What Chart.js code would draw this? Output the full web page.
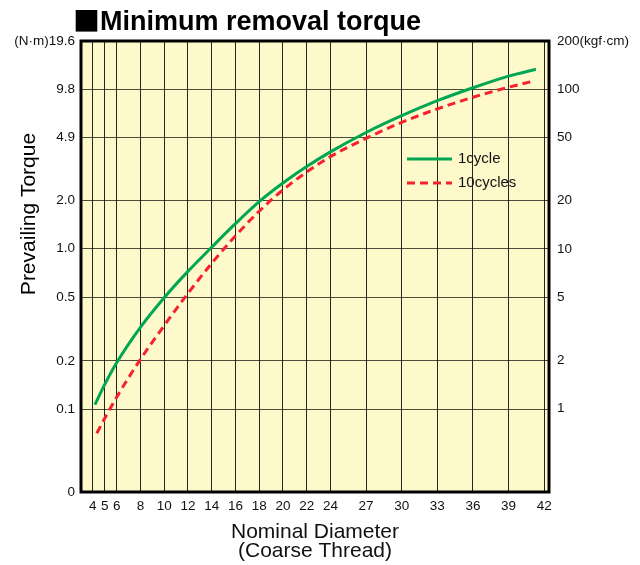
<!DOCTYPE html>
<html>
<head>
<meta charset="utf-8">
<script src="https://cdn.jsdelivr.net/npm/chart.js@4.4.1/dist/chart.umd.min.js"></script>
<style>
  html, body { margin: 0; padding: 0; background: #fff; }
  canvas { display: block; }
</style>
</head>
<body>
<canvas id="torqueChart" width="640" height="565"></canvas>
<script>
// x axis: nominal diameter (mm), coarse thread sizes
const diameters = [4, 5, 6, 8, 10, 12, 14, 16, 18, 20, 22, 24, 27, 30, 33, 36, 39, 42];

// left axis (N·m) and right axis (kgf·cm) tick values / labels
const yTickValues = [0.1, 0.2, 0.5, 1.0, 2.0, 4.9, 9.8, 19.6];
const yTickLabels = ["0.1", "0.2", "0.5", "1.0", "2.0", "4.9", "9.8", "(N·m)19.6"];
const kgfTickValues = [1, 2, 5, 10, 20, 50, 100, 200];
const kgfTickLabels = ["1", "2", "5", "10", "20", "50", "100", "200(kgf·cm)"];

// 1 cycle curve (N·m)
const oneCycleX = [4.17, 5, 6, 8, 10, 12, 14, 16, 18, 20, 22, 24, 27, 30, 33, 36, 39, 41.3];
const oneCycleY = [0.107, 0.143, 0.195, 0.324, 0.495, 0.722, 1.02, 1.43, 1.96, 2.56, 3.24, 4.0, 5.28, 6.72, 8.33, 10.03, 11.85, 13.08];

// 10 cycles curve (N·m)
const tenCyclesX = [4.33, 5, 6, 8, 10, 12, 14, 16, 18, 20, 22, 24, 27, 30, 33, 36, 39, 41.05];
const tenCyclesY = [0.071, 0.088, 0.119, 0.2045, 0.332, 0.526, 0.81, 1.2, 1.71, 2.32, 3.0, 3.74, 4.86, 6.11, 7.41, 8.75, 10.11, 11.01];

const Y_MIN = 0.0306;          // shown as "0" at the bottom of the grid
const Y_MAX = 19.6;
const NM_PER_KGFCM = 0.098;

const FONT = "'Liberation Sans', Arial, Helvetica, sans-serif";
Chart.defaults.font.family = FONT;
Chart.defaults.color = "#111";

function toPoints(xs, ys) {
  return xs.map((x, i) => ({ x: x, y: ys[i] }));
}

// cream background + heavy frame + header text + inline legend
const framePlugin = {
  id: "frame",
  beforeDraw(chart) {
    const { ctx, chartArea: a } = chart;
    ctx.save();
    ctx.fillStyle = "#fef9cb";
    ctx.fillRect(a.left, a.top, a.right - a.left, a.bottom - a.top);
    ctx.restore();
  },
  afterDraw(chart) {
    const { ctx, chartArea: a } = chart;
    ctx.save();
    ctx.strokeStyle = "#000";
    ctx.lineWidth = 3;
    ctx.strokeRect(a.left, a.top, a.right - a.left, a.bottom - a.top);

    // header: big square bullet then the title
    ctx.fillStyle = "#000";
    ctx.textBaseline = "alphabetic";
    ctx.textAlign = "left";
    ctx.font = "bold 27px 'Noto Sans CJK JP', " + FONT;
    ctx.fillText("■", 73, 31);
    const sq = ctx.measureText("■").width;
    ctx.font = "bold 27px " + FONT;
    ctx.fillText("Minimum removal torque", 73 + sq, 30);

    // left axis title, placed a bit above centre like the original
    ctx.translate(29, 214);
    ctx.rotate(-Math.PI / 2);
    ctx.font = "21px " + FONT;
    ctx.textAlign = "center";
    ctx.textBaseline = "middle";
    ctx.fillText("Prevailing Torque", 0, 0);
    ctx.restore();

    // legend drawn inside the plot, no box
    ctx.save();
    const lx = a.left + 326;
    let ly = a.top + 118;
    chart.data.datasets.forEach((ds) => {
      ctx.strokeStyle = ds.borderColor;
      ctx.lineWidth = ds.borderWidth;
      ctx.setLineDash(ds.borderDash || []);
      ctx.beginPath();
      ctx.moveTo(lx, ly);
      ctx.lineTo(lx + 45, ly);
      ctx.stroke();
      ctx.setLineDash([]);
      ctx.fillStyle = "#111";
      ctx.font = "15px " + FONT;
      ctx.textAlign = "left";
      ctx.textBaseline = "middle";
      ctx.fillText(ds.label, lx + 51, ly);
      ly += 24;
    });
    ctx.restore();
  },
};

const ctx = document.getElementById("torqueChart").getContext("2d");
const torqueChart = new Chart(ctx, {
  type: "line",
  data: {
    datasets: [
      {
        label: "1cycle",
        data: toPoints(oneCycleX, oneCycleY),
        borderColor: "#00a651",
        borderWidth: 3,
        pointRadius: 0,
        cubicInterpolationMode: "monotone",
        yAxisID: "y",
      },
      {
        label: "10cycles",
        data: toPoints(tenCyclesX, tenCyclesY),
        borderColor: "#f5222d",
        borderWidth: 3,
        borderDash: [8, 5],
        pointRadius: 0,
        cubicInterpolationMode: "monotone",
        yAxisID: "y",
      },
    ],
  },
  options: {
    responsive: false,
    animation: false,
    layout: { padding: { top: 41, left: 0, right: 0, bottom: 0 } },
    plugins: {
      legend: { display: false },
      tooltip: { enabled: false },
    },
    scales: {
      x: {
        type: "linear",
        min: 3,
        max: 42.4,
        afterBuildTicks: (scale) => {
          scale.ticks = diameters.map((v) => ({ value: v }));
        },
        afterFit: (scale) => {
          scale.height = 73;
        },
        ticks: {
          autoSkip: false,
          maxRotation: 0,
          padding: 6,
          font: { size: 13.5 },
          callback: (v) => String(v),
        },
        grid: { color: "rgba(0,0,0,0.85)", lineWidth: 1, drawTicks: false },
        border: { display: false },
        title: {
          display: true,
          text: ["Nominal Diameter", "(Coarse Thread)"],
          font: { size: 21, lineHeight: 0.9 },
          padding: { top: 0, bottom: 4 },
          color: "#111",
        },
      },
      y: {
        type: "logarithmic",
        position: "left",
        min: Y_MIN,
        max: Y_MAX,
        afterBuildTicks: (scale) => {
          scale.ticks = [{ value: Y_MIN }].concat(yTickValues.map((v) => ({ value: v })));
        },
        afterFit: (scale) => {
          scale.width = 81;
        },
        ticks: {
          padding: 6,
          font: { size: 13.5 },
          callback: (v, i) => (i === 0 ? "0" : yTickLabels[i - 1]),
        },
        grid: { color: "rgba(0,0,0,0.7)", lineWidth: 1, drawTicks: false },
        border: { display: false },
      },
      kgf: {
        type: "logarithmic",
        position: "right",
        min: Y_MIN / NM_PER_KGFCM,
        max: Y_MAX / NM_PER_KGFCM,
        afterBuildTicks: (scale) => {
          scale.ticks = kgfTickValues.map((v) => ({ value: v }));
        },
        afterFit: (scale) => {
          scale.width = 91;
        },
        ticks: {
          padding: 8,
          font: { size: 13.5 },
          callback: (v, i) => kgfTickLabels[i],
        },
        grid: { display: false, drawTicks: false },
        border: { display: false },
      },
    },
  },
  plugins: [framePlugin],
});
</script>
</body>
</html>
